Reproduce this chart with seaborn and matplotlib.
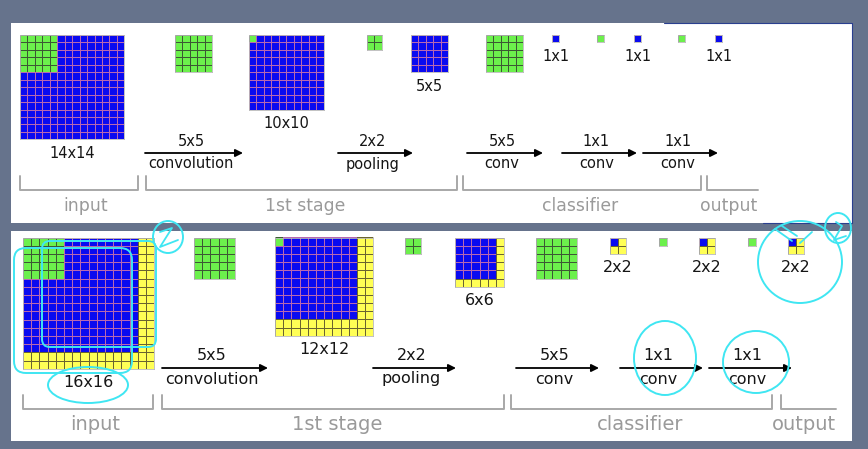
import numpy as np
import matplotlib
matplotlib.use("Agg")
import matplotlib.pyplot as plt
import seaborn as sns
from matplotlib.colors import ListedColormap
from matplotlib.patches import Rectangle, Ellipse, FancyBboxPatch

W, H = 868, 449

# ---- data: feature maps per row (size, active (blue) size, green kernel size, all-green filter?)
top_sizes   = [14, 5, 10, 2, 5, 5, 1, 1, 1, 1, 1]
top_active  = [14, 0, 10, 0, 5, 0, 1, 0, 1, 0, 1]
top_kernel  = [5, 5, 1, 2, 0, 5, 0, 1, 0, 1, 0]

bot_sizes   = [16, 5, 12, 2, 6, 5, 2, 1, 2, 1, 2]
bot_active  = [14, 0, 10, 0, 5, 0, 1, 0, 1, 0, 1]
bot_kernel  = [5, 5, 1, 2, 0, 5, 0, 1, 0, 1, 0]

top_map_labels = ["14x14", "10x10", "5x5", "1x1", "1x1", "1x1"]
bot_map_labels = ["16x16", "12x12", "6x6", "2x2", "2x2", "2x2"]
labelled_maps = [0, 2, 4, 6, 8, 10]

op_sizes = ["5x5", "2x2", "5x5", "1x1", "1x1"]
op_names = ["convolution", "pooling", "conv", "conv", "conv"]
stages = ["input", "1st stage", "classifier", "output"]

# ---- layout (pixels)
top_x = [20, 175, 249, 367, 411, 486, 552, 597, 634, 678, 715]
bot_x = [23, 194, 275, 405, 455, 536, 610, 659, 699, 748, 788]
top_y, bot_y = 35, 237.5
top_cell, bot_cell = 7.45, 8.2

top_arrows = [(145, 243), (338, 413), (467, 543), (562, 637), (643, 718)]
bot_arrows = [(162, 268), (373, 456), (516, 599), (620, 703), (709, 792)]
top_arrow_y, bot_arrow_y = 153, 368

top_brackets = [(20, 138), (146, 457), (463, 701), (707, 758)]
bot_brackets = [(23, 153), (162, 504), (511, 772), (781, 836)]
top_stage_x = [86, 305, 580, 729]
bot_stage_x = [95, 337, 640, 804]

BLUE, GREEN, YELLOW = "#0a0af0", "#6cf04c", "#ffff55"
EDGE = {0: "#b868b0", 1: "#3c5834", 2: "#6a6430"}
cmap = ListedColormap([BLUE, GREEN, YELLOW])
CYAN = "#3fe6f2"


def px_box(x, y, w, h):
    return [x / W, 1 - (y + h) / H, w / W, h / H]


def make_map(n, active, kernel):
    if active == 0:
        m = np.ones((n, n), dtype=int)
    else:
        m = np.full((n, n), 2, dtype=int)
        m[:active, :active] = 0
        m[:kernel, :kernel] = 1
    return m


sns.set_style("white")
fig = plt.figure(figsize=(W / 100, H / 100), dpi=100)
fig.patch.set_facecolor("#66738c")
ax = fig.add_axes([0, 0, 1, 1])
ax.set_xlim(0, W)
ax.set_ylim(H, 0)
ax.axis("off")
ax.set_facecolor("none")

# white panels
ax.add_patch(Rectangle((11, 23), 841, 200, facecolor="white", edgecolor="none"))
ax.add_patch(Rectangle((11, 231), 841, 210, facecolor="white", edgecolor="none"))
ax.plot([664, 852, 852], [23, 23, 223], color="#2a3f8f", lw=0.8)
ax.plot([763, 852], [223, 223], color="#2a3f8f", lw=0.8)


def draw_row(xs, y0, cell, sizes, active, kernel, labels, arrows, ay,
             brackets, stage_x, bracket_y, fs_dark, fs_gray):
    for i, (x, n, a, k) in enumerate(zip(xs, sizes, active, kernel)):
        m = make_map(n, a, k)
        gax = fig.add_axes(px_box(x, y0, n * cell, n * cell))
        sns.heatmap(m, cmap=cmap, vmin=0, vmax=2, cbar=False, linewidths=0.45,
                    xticklabels=False, yticklabels=False, ax=gax)
        mesh = gax.collections[0]
        mesh.set_edgecolor([EDGE[v] for v in m.ravel()])
        for s in gax.spines.values():
            s.set_visible(True)
            s.set_color("#b8b8b8")
            s.set_linewidth(0.6)
    for idx, lab in zip(labelled_maps, labels):
        n = sizes[idx]
        cx = xs[idx] + n * cell / 2
        ax.text(cx, y0 + n * cell + 14, lab, ha="center", va="center",
                fontsize=fs_dark, color="#151515")
    for (x0, x1), sz, nm in zip(arrows, op_sizes, op_names):
        ax.annotate("", xy=(x1, ay), xytext=(x0, ay),
                    arrowprops=dict(arrowstyle="-|>", color="black", lw=1.3,
                                    mutation_scale=11, shrinkA=0, shrinkB=0))
        cx = (x0 + x1) / 2 - 3
        ax.text(cx, ay - 12, sz, ha="center", va="center", fontsize=fs_dark, color="#151515")
        ax.text(cx, ay + 11, nm, ha="center", va="center", fontsize=fs_dark, color="#151515")
    for j, ((x0, x1), name, sx) in enumerate(zip(brackets, stages, stage_x)):
        xs_b = [x0, x0, x1] if j == len(brackets) - 1 else [x0, x0, x1, x1]
        ys_b = [bracket_y - 14, bracket_y, bracket_y] if j == len(brackets) - 1 \
            else [bracket_y - 14, bracket_y, bracket_y, bracket_y - 14]
        ax.plot(xs_b, ys_b, color="#a8a8a8", lw=1.4)
        ax.text(sx, bracket_y + 16, name, ha="center", va="center",
                fontsize=fs_gray, color="#9a9a9a")


draw_row(top_x, top_y, top_cell, top_sizes, top_active, top_kernel, top_map_labels,
         top_arrows, top_arrow_y, top_brackets, top_stage_x, 190, 10.5, 12.4)
draw_row(bot_x, bot_y, bot_cell, bot_sizes, bot_active, bot_kernel, bot_map_labels,
         bot_arrows, bot_arrow_y, bot_brackets, bot_stage_x, 409, 11.5, 14)

# hand-drawn cyan annotations (overlay)
ov = fig.add_axes([0, 0, 1, 1])
ov.set_xlim(0, W)
ov.set_ylim(H, 0)
ov.axis("off")
ov.set_facecolor("none")
kw = dict(facecolor="none", edgecolor=CYAN, lw=1.4)
ov.add_patch(FancyBboxPatch((14, 248), 118, 125, boxstyle="round,pad=0,rounding_size=12", **kw))
ov.add_patch(FancyBboxPatch((42, 241), 114, 106, boxstyle="round,pad=0,rounding_size=8", **kw))
ov.add_patch(Ellipse((168, 237), 30, 32, **kw))
ov.plot([160, 172, 160, 178], [232, 228, 247, 240], color=CYAN, lw=1.3)
ov.add_patch(Ellipse((88, 385), 80, 36, **kw))
ov.add_patch(Ellipse((665, 358), 62, 74, **kw))
ov.add_patch(Ellipse((756, 362), 66, 62, **kw))
ov.add_patch(Ellipse((800, 262), 84, 82, **kw))
ov.add_patch(Ellipse((838, 228), 26, 30, **kw))
ov.plot([836, 842, 834, 846], [222, 226, 240, 236], color=CYAN, lw=1.3)
for (xa, ya, xb, yb) in [(775, 229, 792, 241), (812, 232, 800, 243), (782, 226, 797, 236)]:
    ov.plot([xa, xb], [ya, yb], color=CYAN, lw=1.3)

fig.savefig("out.png", dpi=100, facecolor=fig.get_facecolor())
